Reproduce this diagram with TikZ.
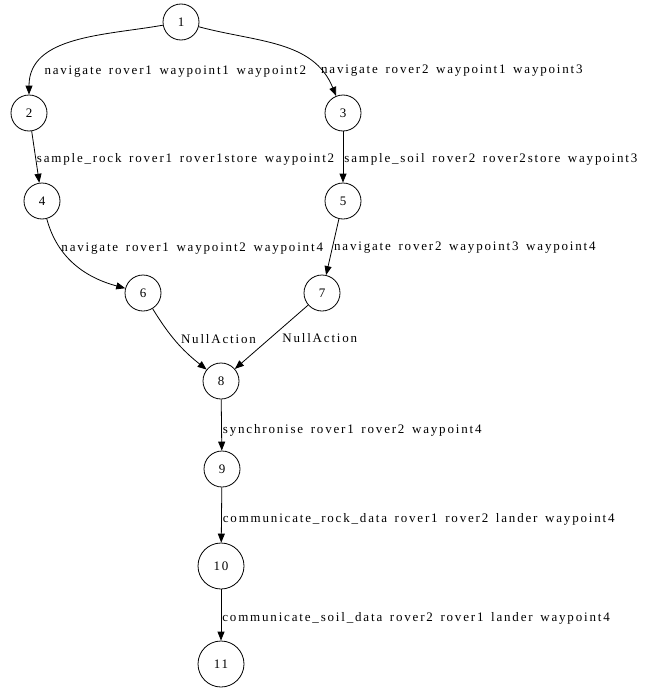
\documentclass[tikz,border=0pt]{standalone}
\usepackage{fontspec}
\setmainfont[LetterSpace=14,WordSpace=1.5]{Liberation Serif}
\usetikzlibrary{arrows.meta}

\tikzset{
  state/.style={circle,draw,line width=0.8pt,minimum size=36pt,inner sep=0pt,font=\fontsize{13}{15}\selectfont},
  wide/.style={minimum size=46pt},
  edge/.style={draw,line width=0.8pt,-{Triangle[length=9pt,width=7pt]}},
  act/.style={anchor=west,inner sep=1pt,yshift=-2pt,font=\fontsize{13}{15}\selectfont},
}

\begin{document}
\begin{tikzpicture}[x=1pt,y=1pt]
  \useasboundingbox (0,0) rectangle (645,-688);
  \node[state] (n1) at (181,-22) {1};
  \node[state] (n2) at (29,-113) {2};
  \node[state] (n3) at (343,-113) {3};
  \node[state] (n4) at (42,-201) {4};
  \node[state] (n5) at (343,-201) {5};
  \node[state] (n6) at (143,-293) {6};
  \node[state] (n7) at (322,-293) {7};
  \node[state] (n8) at (221,-381) {8};
  \node[state] (n9) at (222,-469) {9};
  \node[state,wide] (n10) at (221,-566) {10};
  \node[state,wide] (n11) at (221,-664) {11};
  \draw[edge] (n1) to[out=190,in=90] node[act,pos=0.83,xshift=8pt] {navigate rover1 waypoint1 waypoint2} (n2);
  \draw[edge] (n1) to[out=-15,in=112] node[act,pos=0.8,xshift=1pt] {navigate rover2 waypoint1 waypoint3} (n3);
  \draw[edge] (n2) -- node[act,pos=0.5] {sample\_rock rover1 rover1store waypoint2} (n4);
  \draw[edge] (n3) -- node[act,pos=0.5] {sample\_soil rover2 rover2store waypoint3} (n5);
  \draw[edge] (n4) to[out=-75,in=165] node[act,pos=0.27,xshift=1pt] {navigate rover1 waypoint2 waypoint4} (n6);
  \draw[edge] (n5) -- node[act,pos=0.48] {navigate rover2 waypoint3 waypoint4} (n7);
  \draw[edge] (n6) to[bend right=10] node[act,pos=0.42,xshift=7pt] {NullAction} (n8);
  \draw[edge] (n7) -- node[act,pos=0.48,xshift=8pt] {NullAction} (n8);
  \draw[edge] (n8) -- node[act,pos=0.56] {synchronise rover1 rover2 waypoint4} (n9);
  \draw[edge] (n9) -- node[act,pos=0.55] {communicate\_rock\_data rover1 rover2 lander waypoint4} (n10);
  \draw[edge] (n10) -- node[act,pos=0.52] {communicate\_soil\_data rover2 rover1 lander waypoint4} (n11);
\end{tikzpicture}
\end{document}
